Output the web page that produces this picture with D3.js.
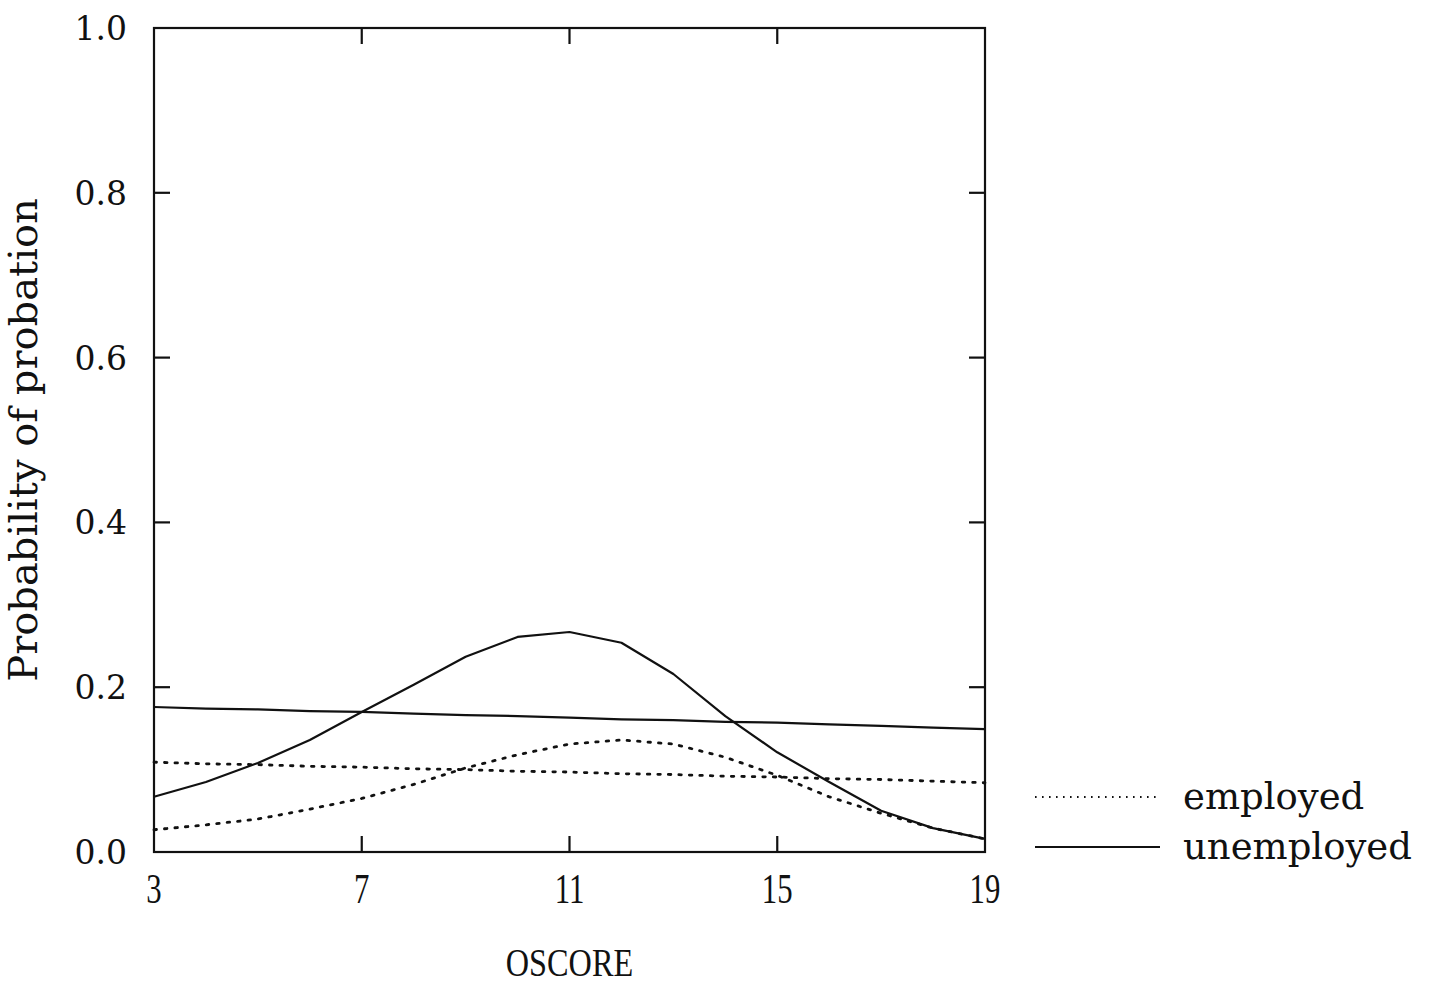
<!DOCTYPE html>
<html>
<head>
<meta charset="utf-8">
<script src="https://cdn.jsdelivr.net/npm/d3@7"></script>
<style>
  body { margin: 0; background: #fff; }
  svg text { fill: #111; }
  .frame { fill: none; stroke: #111; stroke-width: 2.2; }
  .tick-mark { stroke: #111; stroke-width: 2.2; }
  .curve { fill: none; stroke: #111; stroke-width: 2.2; stroke-linejoin: round; }
  .curve.dotted { stroke-dasharray: 2.5 8; stroke-linecap: round; stroke-width: 2.8; }
</style>
</head>
<body>
<svg id="chart" width="1437" height="987"></svg>
<script>
// OSCORE values
const oscore = [3, 4, 5, 6, 7, 8, 9, 10, 11, 12, 13, 14, 15, 16, 17, 18, 19];

// unemployed, interaction model (peaked curve)
const unemployedPeak = [0.067, 0.085, 0.108, 0.136, 0.170, 0.203, 0.237, 0.261, 0.267,
                        0.254, 0.216, 0.165, 0.121, 0.085, 0.050, 0.029, 0.016];
// unemployed, main effects model (nearly flat)
const unemployedFlat = [0.176, 0.174, 0.173, 0.171, 0.170, 0.168, 0.166, 0.165, 0.163,
                        0.161, 0.160, 0.158, 0.157, 0.155, 0.153, 0.151, 0.149];
// employed, interaction model (peaked curve)
const employedPeak = [0.027, 0.033, 0.040, 0.052, 0.065, 0.082, 0.102, 0.118, 0.131,
                      0.136, 0.131, 0.115, 0.093, 0.067, 0.047, 0.029, 0.016];
// employed, main effects model (nearly flat)
const employedFlat = [0.109, 0.107, 0.106, 0.104, 0.103, 0.101, 0.100, 0.098, 0.097,
                      0.095, 0.094, 0.092, 0.091, 0.089, 0.088, 0.086, 0.084];

const xTicks = [3, 7, 11, 15, 19];
const yTicks = [0, 0.2, 0.4, 0.6, 0.8, 1.0];

const margin = {top: 28, left: 154, right: 452, bottom: 135};
const width = 1437 - margin.left - margin.right;
const height = 987 - margin.top - margin.bottom;

const svg = d3.select("#chart");
const chart = svg.append("g")
    .attr("transform", "translate(" + margin.left + "," + margin.top + ")");

const x = d3.scaleLinear().domain([3, 19]).range([0, width]);
const y = d3.scaleLinear().domain([0, 1]).range([height, 0]);

const tickLen = 16;

// frame
chart.append("rect").attr("class", "frame")
    .attr("x", 0).attr("y", 0).attr("width", width).attr("height", height);

// inner ticks on all four sides
const innerX = xTicks.slice(1, -1);
const innerY = yTicks.slice(1, -1);
chart.selectAll(".xb").data(innerX).enter().append("line")
    .attr("class", "tick-mark")
    .attr("x1", d => x(d)).attr("x2", d => x(d))
    .attr("y1", height).attr("y2", height - tickLen);
chart.selectAll(".xt").data(innerX).enter().append("line")
    .attr("class", "tick-mark")
    .attr("x1", d => x(d)).attr("x2", d => x(d))
    .attr("y1", 0).attr("y2", tickLen);
chart.selectAll(".yl").data(innerY).enter().append("line")
    .attr("class", "tick-mark")
    .attr("x1", 0).attr("x2", tickLen)
    .attr("y1", d => y(d)).attr("y2", d => y(d));
chart.selectAll(".yr").data(innerY).enter().append("line")
    .attr("class", "tick-mark")
    .attr("x1", width).attr("x2", width - tickLen)
    .attr("y1", d => y(d)).attr("y2", d => y(d));

// tick labels (tall, narrow serif like the original plotter font)
chart.selectAll(".xlab").data(xTicks).enter().append("text")
    .attr("transform", d => "translate(" + x(d) + "," + (height + 51) + ") scale(0.88,1.22)")
    .attr("text-anchor", "middle")
    .style("font-family", "'Liberation Serif', serif")
    .style("font-size", "35px")
    .text(d => d);

chart.selectAll(".ylab").data(yTicks).enter().append("text")
    .attr("x", -27).attr("y", d => y(d) + 12)
    .attr("text-anchor", "end")
    .style("font-family", "'DejaVu Serif', serif")
    .style("font-size", "33px")
    .text(d => d.toFixed(1));

// axis titles
chart.append("text")
    .attr("transform", "translate(" + (width / 2) + "," + (height + 124) + ") scale(0.95,1.2)")
    .attr("text-anchor", "middle")
    .style("font-family", "'Liberation Serif', serif")
    .style("font-size", "34px")
    .text("OSCORE");

chart.append("text")
    .attr("transform", "translate(" + (-117) + "," + (height / 2) + ") rotate(-90)")
    .attr("text-anchor", "middle")
    .style("font-family", "'DejaVu Serif', serif")
    .style("font-size", "40px")
    .text("Probability of probation");

// curves
const line = d3.line()
    .x((d, i) => x(oscore[i]))
    .y(d => y(d));

const series = [
  {values: unemployedFlat, dotted: false},
  {values: unemployedPeak, dotted: false},
  {values: employedFlat, dotted: true},
  {values: employedPeak, dotted: true}
];

chart.selectAll(".curve").data(series).enter().append("path")
    .attr("class", d => "curve" + (d.dotted ? " dotted" : ""))
    .attr("d", d => line(d.values));

// legend
const legendItems = [
  {label: "employed", dotted: true},
  {label: "unemployed", dotted: false}
];
const legend = svg.append("g").attr("transform", "translate(1035,797)");
const item = legend.selectAll("g").data(legendItems).enter().append("g")
    .attr("transform", (d, i) => "translate(0," + (i * 50) + ")");
item.append("line")
    .attr("x1", 0).attr("x2", 125).attr("y1", 0).attr("y2", 0)
    .attr("stroke", "#111")
    .attr("stroke-width", 2)
    .attr("stroke-dasharray", d => d.dotted ? "1.6 5.4" : null);
item.append("text")
    .attr("x", 148).attr("y", 12)
    .style("font-family", "'DejaVu Serif', serif")
    .style("font-size", "37px")
    .text(d => d.label);
</script>
</body>
</html>
